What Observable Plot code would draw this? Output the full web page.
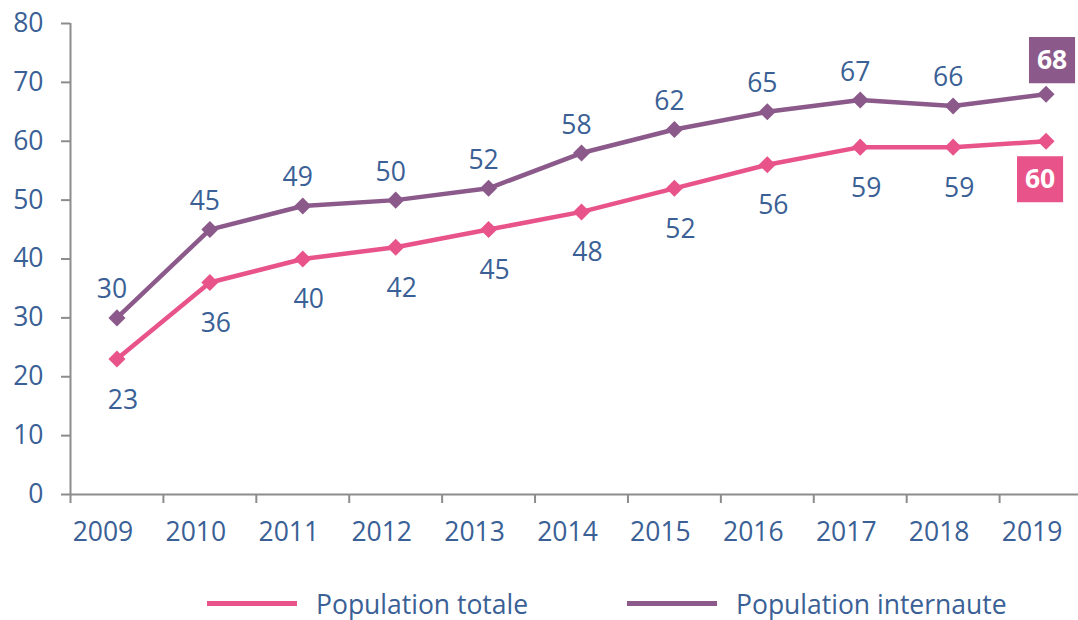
<!DOCTYPE html>
<html>
<head>
<meta charset="utf-8">
<script src="https://cdn.jsdelivr.net/npm/d3@7"></script>
<script src="https://cdn.jsdelivr.net/npm/@observablehq/plot@0.6"></script>
<style>
  html, body { margin: 0; padding: 0; background: #fff; }
  body { width: 1078px; height: 620px; overflow: hidden; font-family: "Open Sans", sans-serif; }
  #chart { position: relative; width: 1078px; }
  #legend { position: relative; width: 1078px; height: 45px; }
  .item { position: absolute; top: 0; display: flex; align-items: center; font-size: 26.5px; line-height: 34px; color: #3a6095; }
  .swatch { width: 90px; height: 5px; margin-right: 19px; }
</style>
</head>
<body>
<div id="chart"></div>
<div id="legend"></div>
<script>
const years = [2009, 2010, 2011, 2012, 2013, 2014, 2015, 2016, 2017, 2018, 2019];
const totale = [23, 36, 40, 42, 45, 48, 52, 56, 59, 59, 60];
const internaute = [30, 45, 49, 50, 52, 58, 62, 65, 67, 66, 68];
const yTicks = [0, 10, 20, 30, 40, 50, 60, 70, 80];
const seriesNames = ["Population totale", "Population internaute"];
const colors = ["#e8538a", "#8b5a8b"];

const textColor = "#3a6095";
const axisColor = "#8c8c8c";
const font = "Open Sans";
const fs = 26.5;

const rows = [];
years.forEach((y, i) => {
  rows.push({year: y, value: totale[i], series: seriesNames[0]});
  rows.push({year: y, value: internaute[i], series: seriesNames[1]});
});
const tot = rows.filter(d => d.series === seriesNames[0]);
const net = rows.filter(d => d.series === seriesNames[1]);
const lastYear = years[years.length - 1];
const halfTicks = [years[0] - 0.5, ...years.map(y => y + 0.5)];

const diamond = {
  draw(context, size) {
    const h = Math.sqrt(size / 2);
    context.moveTo(0, -h);
    context.lineTo(h, 0);
    context.lineTo(0, h);
    context.lineTo(-h, 0);
    context.closePath();
  }
};

const W = 1078, H = 575;
const plot = Plot.plot({
  width: W,
  height: H,
  marginTop: 23,
  marginBottom: H - 494,
  marginLeft: 70,
  marginRight: 0,
  style: {fontFamily: font, fontSize: fs + "px", color: textColor, background: "white", overflow: "visible"},
  x: {domain: [years[0] - 0.5, lastYear + 0.5], range: [70, 1092]},
  y: {domain: [0, 80], range: [494, 23]},
  marks: [
    Plot.axisY({ticks: yTicks, tickSize: 9, tickPadding: 18, stroke: axisColor, strokeWidth: 2, fill: textColor, fontSize: fs, label: null}),
    Plot.axisX({ticks: halfTicks, tickSize: 9, tickFormat: () => "", stroke: axisColor, strokeWidth: 2, label: null}),
    Plot.axisX({ticks: years, tickSize: 0, tickPadding: 28, tickFormat: d => String(d), dx: -14, fill: textColor, fontSize: fs, label: null}),
    Plot.ruleX([years[0] - 0.5], {y1: 0, y2: 80, stroke: axisColor, strokeWidth: 2}),
    Plot.ruleY([0], {stroke: axisColor, strokeWidth: 2}),
    Plot.line(tot, {x: "year", y: "value", stroke: colors[0], strokeWidth: 4.5}),
    Plot.line(net, {x: "year", y: "value", stroke: colors[1], strokeWidth: 4.5}),
    Plot.dot(tot, {x: "year", y: "value", symbol: diamond, r: 6.8, fill: colors[0], stroke: "none"}),
    Plot.dot(net, {x: "year", y: "value", symbol: diamond, r: 6.8, fill: colors[1], stroke: "none"}),
    Plot.text(tot.filter(d => d.year !== lastYear), {x: "year", y: "value", text: d => String(d.value), dy: 41, dx: 6, fill: textColor, fontSize: fs}),
    Plot.text(net.filter(d => d.year !== lastYear), {x: "year", y: "value", text: d => String(d.value), dy: -28, dx: -5, fill: textColor, fontSize: fs}),
    Plot.dot(net.filter(d => d.year === lastYear), {x: "year", y: "value", symbol: "square", r: 26, fill: colors[1], dx: 6, dy: -34}),
    Plot.text(net.filter(d => d.year === lastYear), {x: "year", y: "value", text: d => String(d.value), dx: 6, dy: -34, fill: "white", fontWeight: "bold", fontSize: fs}),
    Plot.dot(tot.filter(d => d.year === lastYear), {x: "year", y: "value", symbol: "square", r: 26, fill: colors[0], dx: -6, dy: 38}),
    Plot.text(tot.filter(d => d.year === lastYear), {x: "year", y: "value", text: d => String(d.value), dx: -6, dy: 38, fill: "white", fontWeight: "bold", fontSize: fs})
  ]
});
document.getElementById("chart").appendChild(plot);

const legend = document.getElementById("legend");
const legendLeft = [207, 627];
seriesNames.forEach((name, i) => {
  const item = document.createElement("div");
  item.className = "item";
  item.style.left = legendLeft[i] + "px";
  item.style.top = "11px";
  const sw = document.createElement("div");
  sw.className = "swatch";
  sw.style.background = colors[i];
  const label = document.createElement("span");
  label.textContent = name;
  label.style.position = "relative";
  label.style.top = "1px";
  item.appendChild(sw);
  item.appendChild(label);
  legend.appendChild(item);
});
</script>
</body>
</html>
